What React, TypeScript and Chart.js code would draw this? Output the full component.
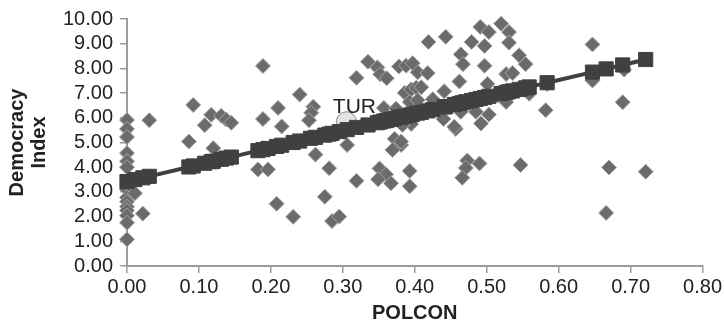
import React, { useEffect, useRef } from 'react';
import { Chart, registerables } from 'chart.js';

Chart.register(...registerables);

// Observed countries: POLCON (x) and Democracy Index (y)
const polcon = [
  0, 0, 0, 0, 0, 0, 0, 0, 0, 0, 0, 0, 0, 0, 0.011, 0.022, 0.031,
  0.086, 0.092, 0.108, 0.117, 0.12, 0.131, 0.138, 0.145,
  0.182, 0.196, 0.189, 0.189, 0.208, 0.231, 0.21, 0.215, 0.24,
  0.259, 0.256, 0.253, 0.262, 0.281, 0.275, 0.285, 0.295, 0.306, 0.319, 0.319, 0.335, 0.348, 0.352, 0.361, 0.357,
  0.372, 0.381, 0.369, 0.351, 0.36, 0.349, 0.367, 0.393, 0.393, 0.378, 0.388, 0.397, 0.404, 0.386, 0.395, 0.402,
  0.395, 0.374, 0.393, 0.404, 0.425, 0.383, 0.409,
  0.419, 0.443, 0.479, 0.491, 0.503, 0.497, 0.52, 0.531, 0.531, 0.464, 0.467, 0.497, 0.545, 0.554, 0.527, 0.536,
  0.418, 0.462, 0.501, 0.441, 0.527, 0.485, 0.503, 0.492, 0.457, 0.381, 0.582, 0.473, 0.471, 0.49, 0.466, 0.547,
  0.647, 0.689, 0.67, 0.721, 0.666, 0.647, 0.691, 0.584, 0.457, 0.464, 0.455, 0.559, 0.44, 0.515,
];
const democracy = [
  5.91, 5.55, 5.22, 4.57, 4.24, 4.0, 3.1, 2.77, 2.6, 2.4, 2.25, 2.04, 1.75, 1.08, 2.95, 2.12, 5.9,
  5.04, 6.52, 5.7, 6.12, 4.77, 6.08, 5.93, 5.8,
  3.91, 3.91, 8.1, 5.95, 2.52, 1.99, 6.4, 5.65, 6.94,
  6.45, 6.2, 5.9, 4.51, 3.96, 2.8, 1.82, 2.0, 4.9, 3.45, 7.62, 8.27, 8.04, 7.76, 7.6, 6.4,
  5.15, 4.9, 4.7, 3.95, 3.71, 3.51, 3.35, 3.85, 3.23, 8.08, 8.11, 8.21, 7.84, 7.01, 7.15, 7.22,
  5.75, 6.37, 6.64, 6.71, 6.75, 5.71, 7.24,
  9.07, 9.28, 9.07, 9.68, 9.47, 8.91, 9.81, 9.47, 9.04, 8.57, 8.17, 8.11, 8.53, 8.17, 7.77, 7.81,
  7.81, 7.47, 7.37, 7.07, 6.64, 6.24, 6.13, 5.77, 5.55, 5.04, 6.31, 4.27, 3.97, 4.15, 3.57, 4.09,
  8.97, 6.63, 3.99, 3.82, 2.15, 7.51, 7.95, 7.37, 6.51, 6.24, 5.64, 6.97, 5.95, 6.9,
];

// Fitted values (dark squares joined by a line)
const fittedPolcon = [
  0, 0.011, 0.022, 0.031, 0.086, 0.092, 0.108, 0.117, 0.12, 0.131, 0.138, 0.145,
  0.182, 0.189, 0.196, 0.208, 0.215, 0.231, 0.24, 0.255, 0.262, 0.275, 0.281, 0.285, 0.295,
  0.306, 0.319, 0.335, 0.348, 0.352, 0.357, 0.361, 0.367, 0.372, 0.378, 0.381, 0.386, 0.393,
  0.397, 0.404, 0.409, 0.418, 0.425, 0.441, 0.443, 0.455, 0.462, 0.466, 0.471, 0.479, 0.485,
  0.491, 0.497, 0.503, 0.52, 0.527, 0.531, 0.536, 0.545, 0.554, 0.559, 0.584, 0.647, 0.666, 0.689, 0.721,
];
const fittedDemocracy = [
  3.42, 3.5, 3.57, 3.63, 4.01, 4.05, 4.16, 4.22, 4.24, 4.32, 4.37, 4.41,
  4.67, 4.71, 4.76, 4.84, 4.89, 5.0, 5.06, 5.17, 5.21, 5.3, 5.34, 5.37, 5.44,
  5.52, 5.61, 5.71, 5.8, 5.83, 5.87, 5.89, 5.93, 5.97, 6.01, 6.03, 6.06, 6.11,
  6.14, 6.19, 6.22, 6.28, 6.33, 6.44, 6.45, 6.54, 6.58, 6.61, 6.65, 6.7, 6.74,
  6.78, 6.82, 6.87, 6.98, 7.03, 7.06, 7.09, 7.15, 7.21, 7.25, 7.42, 7.85, 7.98, 8.14, 8.36,
];

// Highlighted country
const turPolcon = [0.305];
const turDemocracy = [5.84];
const turLabel = 'TUR';

const xTickValues = [0, 0.1, 0.2, 0.3, 0.4, 0.5, 0.6, 0.7, 0.8];
const yTickValues = [0, 1, 2, 3, 4, 5, 6, 7, 8, 9, 10];
const xAxisTitle = 'POLCON';
const yAxisTitle = ['Democracy', 'Index'];

const FONT = '"Liberation Sans", Arial, Helvetica, sans-serif';

const labelPlugin = {
  id: 'turLabel',
  afterDatasetsDraw(chart: any) {
    const meta = chart.getDatasetMeta(1);
    const pt = meta.data[0];
    if (!pt) return;
    const ctx = chart.ctx;
    ctx.save();
    ctx.font = `21px ${FONT}`;
    ctx.fillStyle = '#222222';
    ctx.textAlign = 'center';
    ctx.textBaseline = 'alphabetic';
    ctx.fillText(turLabel, pt.x + 8, pt.y - 9);
    ctx.restore();
  },
};

export default function App() {
  const ref = useRef<HTMLCanvasElement | null>(null);

  useEffect(() => {
    document.body.style.margin = '0';
    const canvas = ref.current;
    if (!canvas) return;
    const axisColor = '#9c9c9c';
    const chart = new Chart(canvas, {
      type: 'scatter',
      data: {
        datasets: [
          {
            label: 'Fitted',
            data: fittedPolcon.map((x, i) => ({ x, y: fittedDemocracy[i] })),
            showLine: true,
            borderColor: '#404040',
            backgroundColor: '#404040',
            borderWidth: 4,
            pointStyle: 'rect',
            pointRadius: 10,
            pointBorderWidth: 1,
            pointBorderColor: '#404040',
            pointBackgroundColor: '#404040',
            clip: false as any,
          },
          {
            label: turLabel,
            data: turPolcon.map((x, i) => ({ x, y: turDemocracy[i] })),
            pointStyle: 'circle',
            pointRadius: 10,
            backgroundColor: '#e4e4e4',
            borderColor: '#8a8a8a',
            borderWidth: 1,
            clip: false as any,
          },
          {
            label: 'Countries',
            data: polcon.map((x, i) => ({ x, y: democracy[i] })),
            pointStyle: 'rectRot',
            pointRadius: 7.5,
            backgroundColor: '#6b6b6b',
            borderColor: '#a6a6a6',
            borderWidth: 1,
            clip: false as any,
          },
        ],
      },
      options: {
        animation: false,
        responsive: false,
        events: [],
        layout: { padding: { top: 16, right: 20, left: 0, bottom: 0 } },
        plugins: {
          legend: { display: false },
          tooltip: { enabled: false },
        },
        scales: {
          x: {
            type: 'linear',
            min: 0,
            max: 0.8,
            afterBuildTicks: (s: any) => {
              s.ticks = xTickValues.map((v) => ({ value: v }));
            },
            afterFit: (s: any) => {
              s.height = 69;
            },
            grid: {
              display: true,
              drawOnChartArea: false,
              drawTicks: true,
              tickLength: 7,
              color: axisColor,
              lineWidth: 1.5,
            },
            border: { display: true, color: axisColor, width: 2 },
            ticks: {
              callback: (v: any) => Number(v).toFixed(2),
              font: { size: 20, family: FONT },
              color: '#222222',
              padding: 2,
              maxRotation: 0,
              autoSkip: false,
            },
            title: {
              display: true,
              text: xAxisTitle,
              font: { size: 20, weight: 'bold', family: FONT, lineHeight: 1.1 },
              color: '#222222',
              padding: { top: 0, bottom: 11 },
            },
          },
          y: {
            type: 'linear',
            min: 0,
            max: 10,
            afterBuildTicks: (s: any) => {
              s.ticks = yTickValues.map((v) => ({ value: v }));
            },
            afterFit: (s: any) => {
              s.width = 127;
            },
            grid: {
              display: true,
              drawOnChartArea: false,
              drawTicks: true,
              tickLength: 7,
              color: axisColor,
              lineWidth: 1.5,
            },
            border: { display: true, color: axisColor, width: 2 },
            ticks: {
              callback: (v: any) => Number(v).toFixed(2),
              font: { size: 20, family: FONT },
              color: '#222222',
              padding: 7,
              autoSkip: false,
            },
            title: {
              display: true,
              text: yAxisTitle,
              font: { size: 20, weight: 'bold', family: FONT, lineHeight: 1.1 },
              color: '#222222',
              padding: { top: 6, bottom: 0 },
            },
          },
        },
      },
      plugins: [labelPlugin],
    } as any);
    return () => {
      chart.destroy();
    };
  }, []);

  return (
    <div style={{ width: 724, height: 335 }}>
      <canvas ref={ref} width={724} height={335} style={{ display: 'block' }} />
    </div>
  );
}
